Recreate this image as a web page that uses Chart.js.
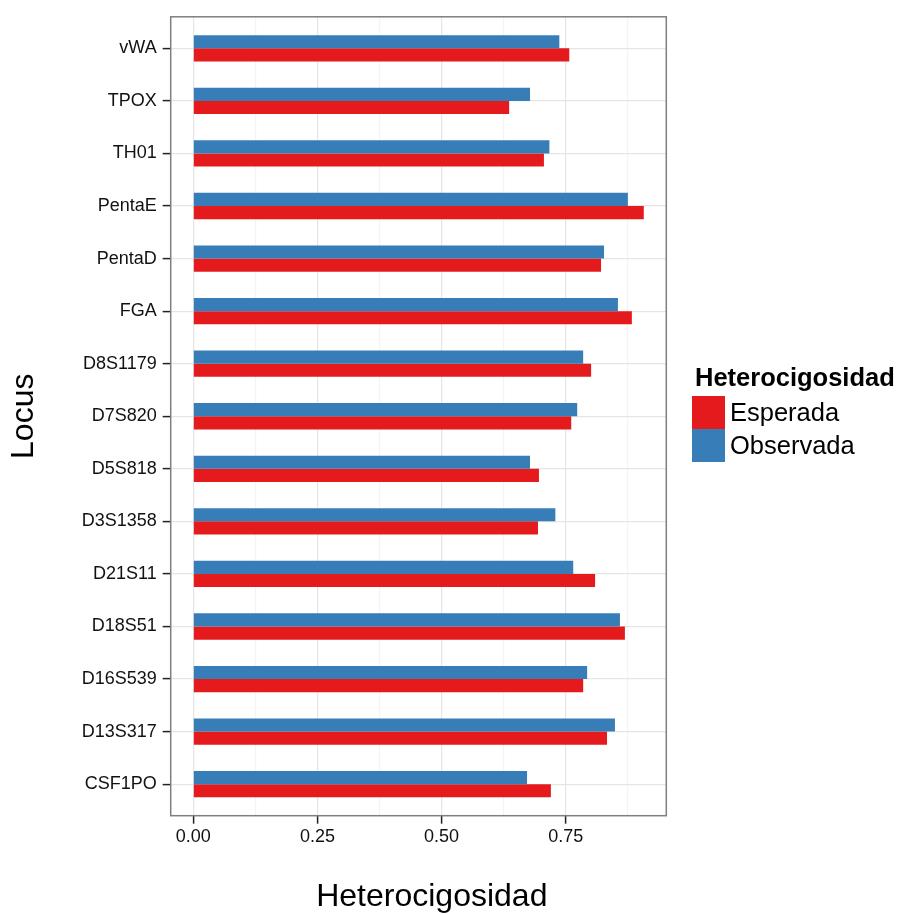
<!DOCTYPE html>
<html>
<head>
<meta charset="utf-8">
<script src="https://cdn.jsdelivr.net/npm/chart.js@4.4.1/dist/chart.umd.min.js"></script>
<style>
body { margin: 0; background: #fff; }
#wrap { position: relative; width: 901px; height: 915px; }
#legend { position: absolute; left: 692px; top: 363px; font-family: "Liberation Sans", Arial, sans-serif; color: #000; }
#legend .title { font-weight: bold; font-size: 25.5px; margin-left: 3px; height: 33px; }
#legend .item { display: flex; align-items: center; height: 33px; }
#legend .box { width: 33px; height: 33px; margin-right: 5px; }
#legend .lbl { font-size: 25.5px; }
</style>
</head>
<body>
<div id="wrap">
  <canvas id="myChart" width="901" height="915"></canvas>
  <div id="legend"></div>
</div>
<script>
// loci, top to bottom as in the figure
var loci = ['vWA','TPOX','TH01','PentaE','PentaD','FGA','D8S1179','D7S820','D5S818','D3S1358','D21S11','D18S51','D16S539','D13S317','CSF1PO'];
var esperada  = [0.757, 0.636, 0.706, 0.907, 0.821, 0.883, 0.801, 0.761, 0.696, 0.694, 0.809, 0.869, 0.785, 0.833, 0.720];
var observada = [0.737, 0.678, 0.717, 0.875, 0.827, 0.855, 0.785, 0.773, 0.678, 0.729, 0.765, 0.859, 0.793, 0.849, 0.672];
var xMajor = [0, 0.25, 0.5, 0.75];
var xMinor = [0.125, 0.375, 0.625, 0.875];
var seriesNames = ['Esperada', 'Observada'];
var seriesColors = ['#E41A1C', '#377EB8'];

var font = '"Liberation Sans", Arial, sans-serif';
var maxVal = Math.max.apply(null, esperada.concat(observada));

function points(vals) {
    return vals.map(function(v, i) { return {x: v, y: i}; });
}

var frame = {
    id: 'frame',
    afterDatasetsDraw: function(chart) {
        var a = chart.chartArea, ctx = chart.ctx;
        ctx.save();
        ctx.strokeStyle = '#7f7f7f';
        ctx.lineWidth = 1.5;
        ctx.strokeRect(a.left, a.top, a.right - a.left, a.bottom - a.top);
        ctx.restore();
    }
};

var ctx = document.getElementById('myChart').getContext('2d');
var chart = new Chart(ctx, {
    type: 'bar',
    data: {
        datasets: [{
            label: seriesNames[1],
            data: points(observada),
            backgroundColor: seriesColors[1],
            borderWidth: 0
        }, {
            label: seriesNames[0],
            data: points(esperada),
            backgroundColor: seriesColors[0],
            borderWidth: 0
        }]
    },
    options: {
        responsive: false,
        animation: false,
        indexAxis: 'y',
        categoryPercentage: 0.5,
        barPercentage: 1.0,
        layout: { padding: { top: 15, right: 234.7, bottom: 0, left: 0 } },
        plugins: {
            legend: { display: false },
            tooltip: { enabled: false }
        },
        scales: {
            x: {
                type: 'linear',
                min: -0.05 * maxVal,
                max: 1.05 * maxVal,
                afterBuildTicks: function(scale) {
                    scale.ticks = xMajor.concat(xMinor).sort().map(function(v) { return {value: v}; });
                },
                afterFit: function(scale) { scale.height = 99.3; },
                border: { display: false },
                grid: {
                    color: function(c) { return xMajor.indexOf(c.tick.value) >= 0 ? '#e5e5e5' : '#f3f3f3'; },
                    lineWidth: 1.2,
                    tickColor: function(c) { return xMajor.indexOf(c.tick.value) >= 0 ? '#222' : 'rgba(0,0,0,0)'; },
                    tickLength: 8,
                    tickWidth: 1.5
                },
                ticks: {
                    autoSkip: false,
                    maxRotation: 0,
                    padding: 3,
                    color: '#111',
                    font: { family: font, size: 18 },
                    callback: function(v) { return xMajor.indexOf(v) >= 0 ? v.toFixed(2) : ''; }
                },
                title: {
                    display: true,
                    text: '\u00a0\u00a0\u00a0Heterocigosidad',
                    color: '#000',
                    font: { family: font, size: 32, lineHeight: 1 },
                    padding: { top: 0, bottom: 2 }
                }
            },
            y: {
                type: 'linear',
                reverse: true,
                offset: false,
                min: -0.6,
                max: loci.length - 0.4,
                afterBuildTicks: function(scale) {
                    scale.ticks = loci.map(function(l, i) { return {value: i}; });
                },
                afterFit: function(scale) { scale.width = 170.7; },
                border: { display: false },
                grid: {
                    offset: false,
                    color: '#e5e5e5',
                    lineWidth: 1.2,
                    tickColor: '#222',
                    tickLength: 8,
                    tickWidth: 1.5
                },
                ticks: {
                    autoSkip: false,
                    padding: 6,
                    color: '#111',
                    font: { family: font, size: 18 },
                    callback: function(v) { return loci[v]; }
                },
                title: {
                    display: true,
                    text: 'Locus',
                    color: '#000',
                    font: { family: font, size: 32, lineHeight: 1 },
                    padding: { top: 8, bottom: 0 }
                }
            }
        }
    },
    plugins: [frame]
});

// legend in the order of the figure: Esperada, Observada
var legend = document.getElementById('legend');
var html = '<div class="title">Heterocigosidad</div>';
for (var i = 0; i < seriesNames.length; ++i) {
    html += '<div class="item"><div class="box" style="background:' + seriesColors[i] + '"></div><span class="lbl">' + seriesNames[i] + '</span></div>';
}
legend.innerHTML = html;
</script>
</body>
</html>
